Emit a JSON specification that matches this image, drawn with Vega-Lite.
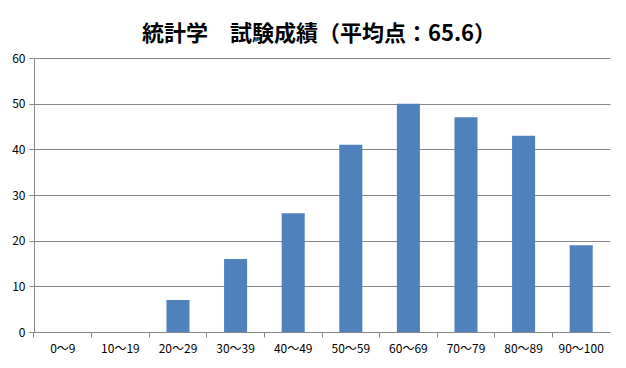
{
  "$schema": "https://vega.github.io/schema/vega-lite/v6.json",
  "autosize": "none",
  "width": 576,
  "height": 274,
  "padding": {"left": 34, "top": 58, "right": 16, "bottom": 36},
  "background": "white",
  "title": {
    "text": "統計学　試験成績（平均点：65.6）",
    "font": "Noto Sans CJK JP",
    "fontSize": 22,
    "fontWeight": "bold",
    "color": "#000000",
    "anchor": "middle",
    "dx": -3,
    "baseline": "alphabetic",
    "offset": -11
  },
  "data": {
    "values": [
      {"range": "0～9", "count": 0},
      {"range": "10～19", "count": 0},
      {"range": "20～29", "count": 7},
      {"range": "30～39", "count": 16},
      {"range": "40～49", "count": 26},
      {"range": "50～59", "count": 41},
      {"range": "60～69", "count": 50},
      {"range": "70～79", "count": 47},
      {"range": "80～89", "count": 43},
      {"range": "90～100", "count": 19}
    ]
  },
  "mark": {"type": "bar", "color": "#4F81BD"},
  "encoding": {
    "x": {
      "field": "range",
      "type": "nominal",
      "sort": null,
      "scale": {"paddingInner": 0.6, "paddingOuter": 0.3},
      "axis": {
        "title": null,
        "labelAngle": 0,
        "bandPosition": -0.75,
        "tickSize": 5,
        "tickColor": "#868686",
        "domainColor": "#868686",
        "labelFont": "Noto Sans CJK JP",
        "labelFontSize": 12,
        "labelColor": "#000000",
        "labelPadding": 6,
        "grid": false
      }
    },
    "y": {
      "field": "count",
      "type": "quantitative",
      "scale": {"domain": [0, 60], "nice": false},
      "axis": {
        "title": null,
        "values": [0, 10, 20, 30, 40, 50, 60],
        "tickSize": 5,
        "tickColor": "#868686",
        "domainColor": "#868686",
        "gridColor": "#868686",
        "labelFont": "Noto Sans CJK JP",
        "labelFontSize": 12,
        "labelColor": "#000000",
        "labelPadding": 4
      }
    }
  },
  "config": {"view": {"stroke": null}}
}
